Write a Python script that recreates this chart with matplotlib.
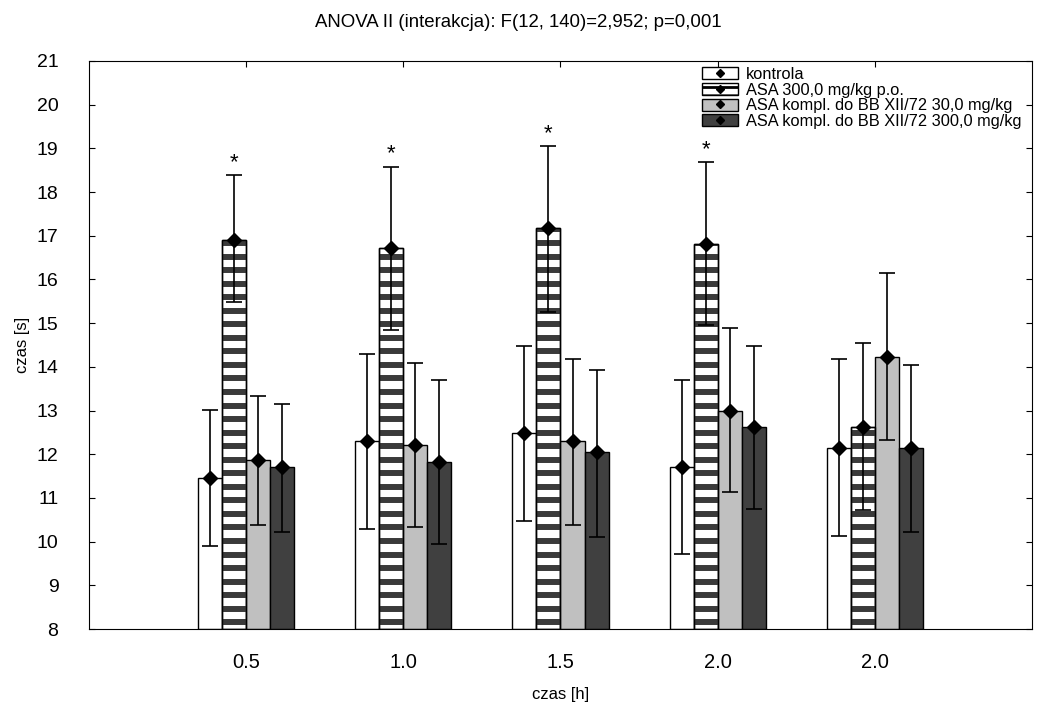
import matplotlib
matplotlib.use('Agg')
import matplotlib.pyplot as plt
from matplotlib.patches import Patch
from matplotlib.lines import Line2D
import numpy as np

plt.rcParams['font.family'] = ['Liberation Sans', 'DejaVu Sans']
plt.rcParams['hatch.linewidth'] = 2.0

# Data
time_labels = ['0.5', '1.0', '1.5', '2.0', '2.0']
group_names = ['kontrola',
               'ASA 300,0 mg/kg p.o.',
               'ASA kompl. do BB XII/72 30,0 mg/kg',
               'ASA kompl. do BB XII/72 300,0 mg/kg']

kontrola_mean = [11.46, 12.30, 12.48, 11.71, 12.14]
kontrola_low = [9.91, 10.30, 10.47, 9.71, 10.13]
kontrola_high = [13.01, 14.29, 14.48, 13.70, 14.17]

asa300_mean = [16.90, 16.71, 17.17, 16.81, 12.63]
asa300_low = [15.48, 14.84, 15.26, 14.96, 10.72]
asa300_high = [18.39, 18.58, 19.05, 18.69, 14.55]

bb30_mean = [11.87, 12.21, 12.30, 13.00, 14.23]
bb30_low = [10.38, 10.34, 10.38, 11.14, 12.32]
bb30_high = [13.33, 14.08, 14.19, 14.88, 16.15]

bb300_mean = [11.71, 11.83, 12.04, 12.63, 12.14]
bb300_low = [10.23, 9.94, 10.11, 10.74, 10.23]
bb300_high = [13.16, 13.70, 13.93, 14.48, 14.04]

# significance marks over ASA 300 bars
stars = ['*', '*', '*', '*', '']

means = [kontrola_mean, asa300_mean, bb30_mean, bb300_mean]
lows = [kontrola_low, asa300_low, bb30_low, bb300_low]
highs = [kontrola_high, asa300_high, bb30_high, bb300_high]
colors = ['white', 'white', '#c0c0c0', '#404040']
striped = [False, True, False, False]

fig = plt.figure(figsize=(10.37, 7.04), dpi=100)
ax = fig.add_axes([0.0858, 0.1065, 0.9094, 0.8069])

x = np.arange(len(time_labels))
w = 0.153
offsets = [-1.5 * w, -0.5 * w, 0.5 * w, 1.5 * w]
base = 8
stripe_step = 0.31  # horizontal stripe spacing (data units)

for i in range(4):
    m = np.array(means[i])
    pos = x + offsets[i]
    bars = ax.bar(pos, m - base, w, bottom=base, color=colors[i], edgecolor='black',
                  linewidth=1, zorder=2)
    if striped[i]:
        # horizontal dark stripes clipped to each bar
        for b, p in zip(bars.patches, pos):
            ys = np.arange(base + stripe_step / 2, b.get_y() + b.get_height() + stripe_step, stripe_step)
            lc = ax.hlines(ys, p - w / 2, p + w / 2, colors='#3a3a3a', linewidth=4.3, zorder=2.5)
            lc.set_clip_path(b)
        ax.bar(pos, m - base, w, bottom=base, fill=False, edgecolor='black',
               linewidth=1, zorder=3)
    err = [m - np.array(lows[i]), np.array(highs[i]) - m]
    ax.errorbar(pos, m, yerr=err, fmt='D', color='black', markersize=7.5,
                capsize=6, elinewidth=1.2, capthick=1.2, zorder=4)

for j, s in enumerate(stars):
    if s:
        ax.text(x[j] + offsets[1], asa300_high[j] + 0.05, s, ha='center', va='bottom',
                fontsize=16)

ax.set_xlim(-1, 5)
ax.set_ylim(8, 21)
ax.set_yticks(range(8, 22))
ax.set_xticks(x)
ax.set_xticklabels(time_labels)
ax.tick_params(axis='y', direction='in', right=True, length=4, labelsize=14, pad=22)
ax.tick_params(axis='x', direction='in', top=True, bottom=False, length=4,
               labelsize=14.5, pad=17)
ax.set_xlabel('czas [h]', fontsize=12, labelpad=11)
ax.set_ylabel('czas [s]', fontsize=12, labelpad=5)
fig.suptitle('ANOVA II (interakcja): F(12, 140)=2,952; p=0,001', fontsize=13.4, y=0.98)

handles = []
for i in range(4):
    p = Patch(facecolor=colors[i], edgecolor='black', hatch='--' if striped[i] else None,
              linewidth=1)
    mk = Line2D([], [], marker='D', color='black', linestyle='none', markersize=4.5)
    handles.append((p, mk))
leg = ax.legend(handles, group_names, loc='upper left', bbox_to_anchor=(0.644, 1.0),
                frameon=False, fontsize=11.8, handlelength=2.2, handleheight=0.75,
                labelspacing=0.05, handletextpad=0.5, borderaxespad=0.15,
                borderpad=0.2)

fig.savefig('out.png', dpi=100)
